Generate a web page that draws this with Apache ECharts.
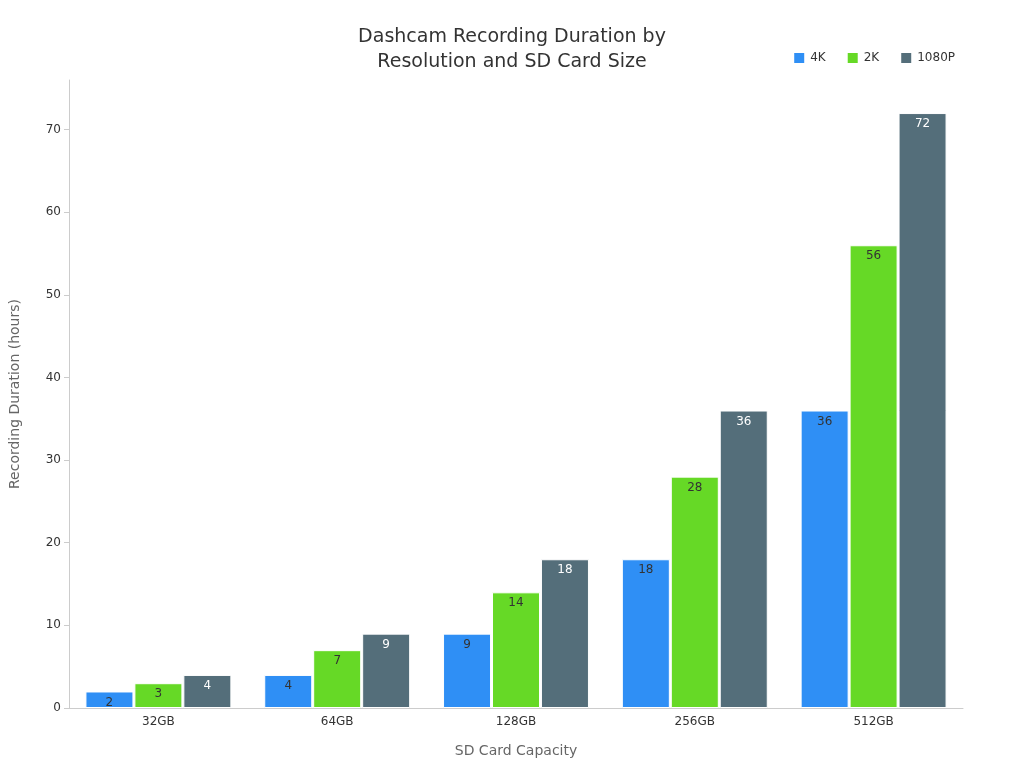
<!DOCTYPE html>
<html><head><meta charset="utf-8">
<script src="https://cdn.jsdelivr.net/npm/echarts@6/dist/echarts.min.js"></script>
<style>html,body{margin:0;padding:0;background:#fff}#c{width:1024px;height:768px}</style>
</head><body><div id="c"></div>
<script>
const categories = ['32GB','64GB','128GB','256GB','512GB'];
const series4K = [2,4,9,18,36];
const series2K = [3,7,14,28,56];
const series1080P = [4,9,18,36,72];
const chart = echarts.init(document.getElementById('c'));
const font = 'DejaVu Sans';
function mk(name, data, color, labelColor){
  return {name, type:'bar', data, barWidth:48, barGap:'2%',
    itemStyle:{color, borderColor:'#fff', borderWidth:1},
    label:{show:true, position:'insideTop', color:labelColor, fontSize:12, fontFamily:font}};
}
chart.setOption({
  textStyle:{fontFamily:font},
  title:{text:'Dashcam Recording Duration by\nResolution and SD Card Size', left:'center', top:20,
    textStyle:{fontSize:19, fontWeight:'normal', color:'#333', lineHeight:25, fontFamily:font}},
  legend:{top:46, right:64, itemWidth:12, itemHeight:12, icon:'rect', itemGap:20,
    textStyle:{fontSize:12, color:'#333', fontFamily:font}},
  grid:{left:60, right:61, top:80, bottom:60},
  xAxis:{type:'category', data:categories, name:'SD Card Capacity', nameLocation:'middle', nameGap:36,
    nameTextStyle:{fontSize:14, color:'#666'},
    axisLine:{lineStyle:{color:'#ccc'}}, axisTick:{alignWithLabel:false, lineStyle:{color:'#ccc'}},
    axisLabel:{color:'#333', fontSize:12}},
  yAxis:{type:'value', min:0, max:76, interval:10, name:'Recording Duration (hours)', nameLocation:'middle', nameGap:47,
    nameTextStyle:{fontSize:14, color:'#666'},
    axisLine:{show:true, lineStyle:{color:'#ccc'}}, axisTick:{show:true, lineStyle:{color:'#ccc'}},
    splitLine:{show:false}, axisLabel:{color:'#333', fontSize:12, showMaxLabel:false}},
  series:[mk('4K',series4K,'#2f8ff5','#333'), mk('2K',series2K,'#66d926','#333'), mk('1080P',series1080P,'#546e7a','#fff')]
});
</script></body></html>
